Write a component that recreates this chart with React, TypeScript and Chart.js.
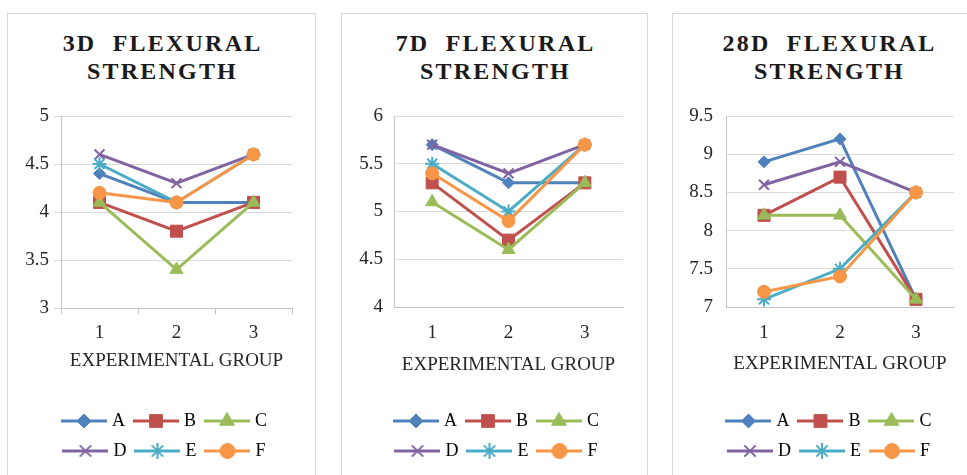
import React, { useEffect, useRef } from 'react';
import { Chart, registerables } from 'chart.js';
import { drawPoint } from 'chart.js/helpers';

Chart.register(...registerables);

// Experimental groups on the category axis
const groups = ['1', '2', '3'];

// Mix designations
const seriesNames = ['A', 'B', 'C', 'D', 'E', 'F'];

// 3-day flexural strength
const day3A = [4.4, 4.1, 4.1];
const day3B = [4.1, 3.8, 4.1];
const day3C = [4.1, 3.4, 4.1];
const day3D = [4.6, 4.3, 4.6];
const day3E = [4.5, 4.1, 4.6];
const day3F = [4.2, 4.1, 4.6];

// 7-day flexural strength
const day7A = [5.7, 5.3, 5.3];
const day7B = [5.3, 4.7, 5.3];
const day7C = [5.1, 4.6, 5.3];
const day7D = [5.7, 5.4, 5.7];
const day7E = [5.5, 5.0, 5.7];
const day7F = [5.4, 4.9, 5.7];

// 28-day flexural strength
const day28A = [8.9, 9.2, 7.1];
const day28B = [8.2, 8.7, 7.1];
const day28C = [8.2, 8.2, 7.1];
const day28D = [8.6, 8.9, 8.5];
const day28E = [7.1, 7.5, 8.5];
const day28F = [7.2, 7.4, 8.5];

// Value-axis tick labels
const day3Ticks = [3, 3.5, 4, 4.5, 5];
const day7Ticks = [4, 4.5, 5, 5.5, 6];
const day28Ticks = [7, 7.5, 8, 8.5, 9, 9.5];

const xAxisTitle = 'EXPERIMENTAL GROUP';

// Styling
const seriesColors = ['#4F81BD', '#C0504D', '#9BBB59', '#8064A2', '#4BACC6', '#F79646'];
const seriesMarkers = ['rectRot', 'rect', 'triangle', 'crossRot', 'star', 'circle'];
const markerRadius = [6, 8.5, 7.5, 7, 7, 6.5];
const iconRadius = [7, 9, 8.5, 8, 8, 7.5];
const textColor = '#262626';
const gridColor = '#d9d9d9';
const axisColor = '#c4c4c4';
const serif = "'Liberation Serif', 'Times New Roman', serif";

Chart.defaults.font.family = serif;

type PanelLayout = {
  left: number;
  width: number;
  padL: number;
  padR: number;
  yWidth: number;
  rightGap: number;
  yPad: number;
  showTicks: boolean;
  xHeight: number;
  xTickPad: number;
  xTitlePad: number;
};

const CANVAS_TOP = 90;
const CANVAS_H = 385;

function makeIcon(color: string, style: string, radius: number): HTMLCanvasElement {
  const c = document.createElement('canvas');
  c.width = 46;
  c.height = 18;
  const ctx = c.getContext('2d') as CanvasRenderingContext2D;
  ctx.strokeStyle = color;
  ctx.fillStyle = color;
  ctx.lineWidth = 3;
  ctx.beginPath();
  ctx.moveTo(0, 9);
  ctx.lineTo(46, 9);
  ctx.stroke();
  const bw = style === 'crossRot' || style === 'star' ? 2 : 1;
  ctx.lineWidth = bw;
  drawPoint(ctx, { pointStyle: style as any, radius, rotation: 0, borderWidth: bw } as any, 23, 9);
  return c;
}

function StrengthChart(props: { series: number[][]; ticks: number[]; layout: PanelLayout }) {
  const ref = useRef<HTMLCanvasElement | null>(null);
  const { series, ticks, layout } = props;

  useEffect(() => {
    if (!ref.current) return;
    const icons = seriesNames.map((_, i) => makeIcon(seriesColors[i], seriesMarkers[i], iconRadius[i]));
    const chart = new Chart(ref.current, {
      type: 'line',
      data: {
        labels: groups,
        datasets: series.map((vals, i) => ({
          label: seriesNames[i],
          data: vals,
          borderColor: seriesColors[i],
          backgroundColor: seriesColors[i],
          borderWidth: 3,
          pointStyle: seriesMarkers[i] as any,
          pointRadius: markerRadius[i],
          pointBackgroundColor: seriesColors[i],
          pointBorderColor: seriesColors[i],
          pointBorderWidth: seriesMarkers[i] === 'crossRot' || seriesMarkers[i] === 'star' ? 2 : 1,
          tension: 0,
          order: series.length - 1 - i,
          clip: false as any,
          yAxisID: 'y',
        })),
      },
      options: {
        responsive: false,
        animation: false,
        layout: { padding: { left: layout.padL, right: layout.padR, top: 26, bottom: 5 } },
        plugins: {
          tooltip: { enabled: false },
          legend: {
            position: 'bottom',
            labels: {
              usePointStyle: true,
              pointStyleWidth: 38,
              padding: 12,
              color: textColor,
              font: { size: 18, family: serif },
              generateLabels: () =>
                seriesNames.map((name, i) => ({
                  text: name,
                  pointStyle: icons[i] as any,
                  fillStyle: seriesColors[i],
                  strokeStyle: seriesColors[i],
                  lineWidth: 0,
                  hidden: false,
                  datasetIndex: i,
                })),
            },
          },
        },
        scales: {
          x: {
            type: 'category',
            offset: true,
            grid: {
              display: true,
              drawOnChartArea: false,
              drawTicks: layout.showTicks,
              tickLength: 6,
              color: axisColor,
              offset: true,
            },
            border: { color: axisColor, width: 1 },
            ticks: { padding: layout.xTickPad, color: textColor, font: { size: 19, family: serif }, maxRotation: 0 },
            title: {
              display: true,
              text: xAxisTitle,
              color: textColor,
              font: { size: 19, family: serif },
              padding: { top: 0, bottom: layout.xTitlePad },
            },
            afterFit: (s: any) => {
              s.height = layout.xHeight;
            },
          },
          y: {
            position: 'left',
            min: ticks[0],
            max: ticks[ticks.length - 1],
            grid: { color: gridColor, drawTicks: layout.showTicks, tickLength: 7 },
            border: { color: axisColor, width: 1 },
            ticks: {
              padding: layout.yPad,
              color: textColor,
              font: { size: 19, family: serif },
              callback: (v: any) => String(v),
            },
            afterBuildTicks: (s: any) => {
              s.ticks = ticks.map((v) => ({ value: v }));
            },
            afterFit: (s: any) => {
              s.width = layout.yWidth;
            },
          },
          // empty right-hand gutter between the plot and the panel edge
          gutter: {
            type: 'linear',
            position: 'right',
            display: true,
            grid: { display: false, drawOnChartArea: false, drawTicks: false },
            border: { display: false },
            ticks: { display: false },
            afterFit: (s: any) => {
              s.width = layout.rightGap;
            },
          },
        },
      },
    });
    return () => chart.destroy();
  }, [series, ticks, layout]);

  return (
    <canvas
      ref={ref}
      width={layout.width - 2}
      height={CANVAS_H}
      style={{
        position: 'absolute',
        left: layout.left + 1,
        top: CANVAS_TOP,
        width: layout.width - 2,
        height: CANVAS_H,
      }}
    />
  );
}

function Panel(props: { line1: string; line2: string; series: number[][]; ticks: number[]; layout: PanelLayout }) {
  const { line1, line2, series, ticks, layout } = props;
  return (
    <>
      <div
        style={{
          position: 'absolute',
          left: layout.left,
          top: 13,
          width: layout.width,
          height: 480,
          boxSizing: 'border-box',
          border: '1px solid #d9d9d9',
          background: '#ffffff',
        }}
      />
      <div
        style={{
          position: 'absolute',
          left: layout.left,
          top: 29,
          width: layout.width,
          textAlign: 'center',
          fontFamily: serif,
          fontWeight: 'bold',
          fontSize: 24,
          lineHeight: '28px',
          letterSpacing: '2.2px',
          paddingLeft: 2,
          boxSizing: 'border-box',
          color: '#1a1a1a',
          whiteSpace: 'pre',
        }}
      >
        <div>{line1}</div>
        <div>{line2}</div>
      </div>
      <StrengthChart series={series} ticks={ticks} layout={layout} />
    </>
  );
}

const day3Series = [day3A, day3B, day3C, day3D, day3E, day3F];
const day7Series = [day7A, day7B, day7C, day7D, day7E, day7F];
const day28Series = [day28A, day28B, day28C, day28D, day28E, day28F];

const layout3: PanelLayout = {
  left: 7, width: 309, padL: 15, padR: 6, yWidth: 38, rightGap: 17, yPad: 5, showTicks: true,
  xHeight: 92, xTickPad: 8, xTitlePad: 28,
};
const layout7: PanelLayout = {
  left: 341, width: 307, padL: 14, padR: 7, yWidth: 38, rightGap: 17, yPad: 11, showTicks: false,
  xHeight: 93, xTickPad: 15, xTitlePad: 24,
};
const layout28: PanelLayout = {
  left: 672, width: 313, padL: 14, padR: 10, yWidth: 39, rightGap: 20, yPad: 13, showTicks: false,
  xHeight: 93, xTickPad: 15, xTitlePad: 25,
};

export default function App() {
  return (
    <div
      style={{
        position: 'fixed',
        left: 0,
        top: 0,
        width: 967,
        height: 475,
        overflow: 'hidden',
        background: '#ffffff',
      }}
    >
      <Panel line1="3D  FLEXURAL" line2="STRENGTH" series={day3Series} ticks={day3Ticks} layout={layout3} />
      <Panel line1="7D  FLEXURAL" line2="STRENGTH" series={day7Series} ticks={day7Ticks} layout={layout7} />
      <Panel line1="28D  FLEXURAL" line2="STRENGTH" series={day28Series} ticks={day28Ticks} layout={layout28} />
    </div>
  );
}
